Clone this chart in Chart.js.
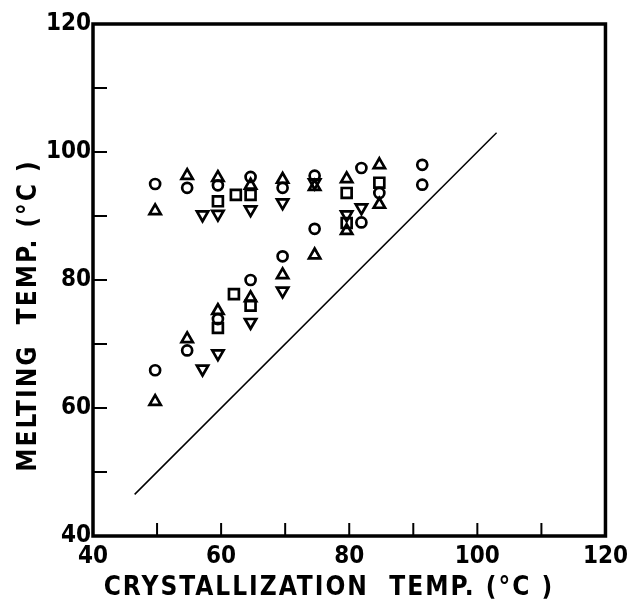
<!DOCTYPE html>
<html>
<head>
<meta charset="utf-8">
<script src="https://cdn.jsdelivr.net/npm/chart.js@4.4.1/dist/chart.umd.min.js"></script>
<style>
  html, body { margin: 0; padding: 0; background: #fff; }
  #wrap { width: 634px; height: 604px; }
</style>
</head>
<body>
<div id="wrap"><canvas id="c"></canvas></div>
<script>
// values: [crystallization temp, melting temp]
const circles = [
  [49.7, 95.0], [54.7, 94.4], [59.5, 94.8], [64.6, 96.1], [69.6, 94.4],
  [74.6, 96.3], [81.9, 97.5], [84.7, 93.6], [91.4, 98.0], [91.4, 94.9],
  [49.7, 65.9], [54.7, 69.0], [59.5, 73.9], [64.6, 80.0], [69.6, 83.7],
  [74.6, 88.0], [81.9, 89.0]
];
const triUp = [
  [49.7, 90.8], [54.7, 96.3], [59.5, 96.0], [64.6, 94.8], [69.6, 95.7],
  [74.6, 94.6], [79.6, 95.8], [84.7, 98.0], [84.7, 91.8],
  [49.7, 61.0], [54.7, 70.8], [59.5, 75.2], [64.6, 77.2], [69.6, 80.8],
  [74.6, 83.9], [79.6, 87.7]
];
const squares = [
  [59.5, 92.3], [62.3, 93.3], [64.6, 93.3], [79.6, 93.6], [84.7, 95.2],
  [59.5, 72.5], [62.0, 77.8], [64.6, 76.0], [79.6, 88.9]
];
const triDown = [
  [57.1, 90.2], [59.5, 90.3], [64.6, 91.0], [69.6, 92.1], [74.6, 95.2],
  [79.6, 90.2], [81.9, 91.3],
  [57.1, 66.1], [59.5, 68.5], [64.6, 73.4], [69.6, 78.3]
];
const diagonal = [[46.5, 46.5], [103, 103]];

const xRange = [40, 120];
const yRange = [40, 120];
const tickStep = 10;

const pts = arr => arr.map(p => ({ x: p[0], y: p[1] }));
const FONT = '"DejaVu Sans Condensed", "DejaVu Sans", sans-serif';

function marker(data, style, radius, rotation) {
  return {
    type: 'scatter',
    data: pts(data),
    pointStyle: style,
    pointRadius: radius,
    pointHoverRadius: radius,
    pointRotation: rotation || 0,
    borderColor: '#000',
    backgroundColor: 'rgba(0,0,0,0)',
    pointBorderWidth: 2.7
  };
}

// wider letter spacing for the axis titles only
const spacedTitles = {
  id: 'spacedTitles',
  beforeDraw(chart) {
    Object.values(chart.scales).forEach(s => {
      if (s._spaced) return;
      const orig = s.drawTitle;
      s.drawTitle = function () {
        const ctx = this.ctx;
        ctx.save();
        ctx.letterSpacing = '2px';
        orig.apply(this, arguments);
        ctx.restore();
      };
      s._spaced = true;
    });
  }
};

// inward tick marks and the closed frame
const frame = {
  id: 'frame',
  afterDraw(chart) {
    const { ctx, chartArea: a, scales: { x, y } } = chart;
    ctx.save();
    ctx.strokeStyle = '#000';
    ctx.lineWidth = 2;
    for (let v = xRange[0] + tickStep; v < xRange[1]; v += tickStep) {
      const px = x.getPixelForValue(v);
      ctx.beginPath(); ctx.moveTo(px, a.bottom); ctx.lineTo(px, a.bottom - 13); ctx.stroke();
    }
    for (let v = yRange[0] + tickStep; v < yRange[1]; v += tickStep) {
      const py = y.getPixelForValue(v);
      ctx.beginPath(); ctx.moveTo(a.left, py); ctx.lineTo(a.left + 14, py); ctx.stroke();
    }
    ctx.lineWidth = 3.5;
    ctx.strokeRect(a.left, a.top, a.right - a.left, a.bottom - a.top);
    ctx.restore();
  }
};

new Chart(document.getElementById('c'), {
  type: 'scatter',
  data: {
    datasets: [
      {
        type: 'line',
        data: pts(diagonal),
        borderColor: '#000',
        borderWidth: 1.5,
        pointRadius: 0,
        fill: false
      },
      marker(circles, 'circle', 5),
      marker(triUp, 'triangle', 6.5),
      marker(squares, 'rect', 7),
      marker(triDown, 'triangle', 6.5, 180)
    ]
  },
  options: {
    responsive: true,
    maintainAspectRatio: false,
    animation: false,
    layout: { padding: { top: 24, right: 27, left: 0, bottom: 0 } },
    plugins: { legend: { display: false }, tooltip: { enabled: false } },
    scales: {
      x: {
        min: xRange[0], max: xRange[1],
        afterFit: s => { s.height = 68; },
        border: { display: false },
        grid: { display: false, drawTicks: false },
        ticks: {
          stepSize: tickStep,
          padding: 6,
          color: '#000',
          maxRotation: 0,
          font: { family: FONT, size: 24, weight: 'bold' },
          callback: v => (v % 20 === 0 ? v : '')
        },
        title: {
          display: true,
          text: 'CRYSTALLIZATION  TEMP. (°C )    ',
          color: '#000',
          font: { family: FONT, size: 26, weight: 'bold' },
          padding: { top: 0, bottom: 0 }
        }
      },
      y: {
        min: yRange[0], max: yRange[1],
        afterFit: s => { s.width = 93; },
        border: { display: false },
        grid: { display: false, drawTicks: false },
        ticks: {
          stepSize: tickStep,
          padding: 2,
          color: '#000',
          font: { family: FONT, size: 24, weight: 'bold' },
          callback: v => (v % 20 === 0 ? v : '')
        },
        title: {
          display: true,
          text: 'MELTING  TEMP. (°C )       ',
          color: '#000',
          font: { family: FONT, size: 26, weight: 'bold' },
          padding: { top: 14, bottom: 0 }
        }
      }
    }
  },
  plugins: [spacedTitles, frame]
});
</script>
</body>
</html>
